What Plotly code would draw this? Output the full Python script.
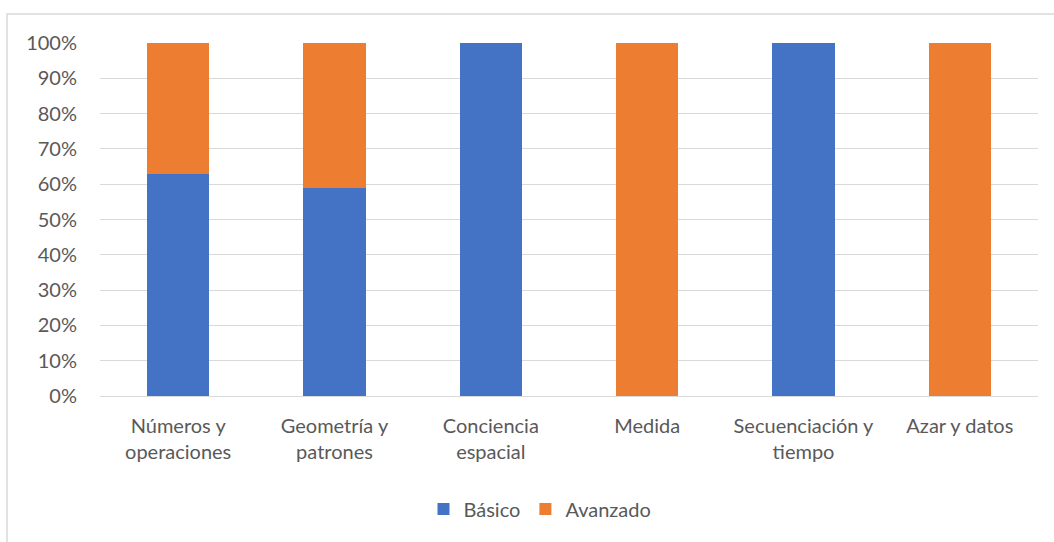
import plotly.graph_objects as go

categories = ["Números y<br>operaciones", "Geometría y<br>patrones", "Conciencia<br>espacial",
              "Medida", "Secuenciación y<br>tiempo", "Azar y datos"]
basico = [0.63, 0.588, 1.0, 0.0, 1.0, 0.0]
avanzado = [0.37, 0.412, 0.0, 1.0, 0.0, 1.0]

FONT = "Lato, 'Open Sans', sans-serif"
GRAY = "#595959"

fig = go.Figure()
fig.add_trace(go.Bar(name="Básico", x=categories, y=basico, marker_color="#4472C4",
                     marker_line_width=0))
fig.add_trace(go.Bar(name="Avanzado", x=categories, y=avanzado, marker_color="#ED7D31",
                     marker_line_width=0))

W, H = 1054, 542
ml, mr, mt, mb = 100, 16, 43, 146
pw, ph = W - ml - mr, H - mt - mb

fig.update_layout(
    width=W, height=H,
    barmode="stack", bargap=0.6,
    margin=dict(l=ml, r=mr, t=mt, b=mb),
    plot_bgcolor="white", paper_bgcolor="white",
    font=dict(family=FONT, size=20, color=GRAY),
    legend=dict(orientation="h", x=(540 - ml) / pw, xanchor="center", y=(mt + ph - 509) / ph,
                yanchor="middle", font=dict(size=20, color=GRAY), traceorder="normal",
                itemwidth=30),
    xaxis=dict(showgrid=False, showline=False, ticks="", ticklabelstandoff=16,
               tickfont=dict(size=20, color=GRAY)),
    yaxis=dict(range=[0, 1], tickvals=[i / 10 for i in range(11)], tickformat=".0%",
               showgrid=True, gridcolor="#D9D9D9", gridwidth=1.3, zeroline=True,
               zerolinecolor="#D9D9D9", zerolinewidth=1.3, showline=False, ticks="",
               ticklabelstandoff=22, tickfont=dict(size=20, color=GRAY)),
    shapes=[dict(type="rect", xref="paper", yref="paper",
                 x0=(7 - ml) / pw, x1=1.2, y0=-2, y1=(mt + ph - 14) / ph,
                 line=dict(color="#D9D9D9", width=1.5), fillcolor="rgba(0,0,0,0)", layer="below")],
)

fig.write_html("out.html")
